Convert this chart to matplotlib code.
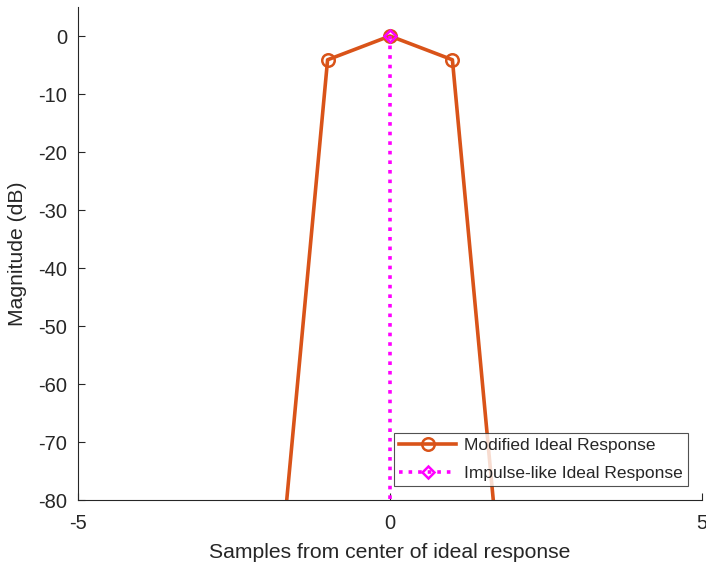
import matplotlib
matplotlib.use("Agg")
import matplotlib.pyplot as plt

# Data
samples = [-2, -1, 0, 1, 2]
modified_db = [-120, -4.1, 0, -4.1, -120]
impulse_x = [0, 0]
impulse_db = [0, -300]
xticks = [-5, 0, 5]
yticks = [0, -10, -20, -30, -40, -50, -60, -70, -80]

plt.rcParams['font.family'] = ['Liberation Sans', 'DejaVu Sans']
plt.rcParams['axes.unicode_minus'] = False

fig = plt.figure(figsize=(7.06, 5.66), dpi=100)
ax = fig.add_axes([78/706, 66/566, 624/706, 493/566])

orange = '#D95319'
ax.plot(samples, modified_db, '-o', color=orange, lw=2.6, ms=9, mfc='none',
        mew=1.8, label='Modified Ideal Response')
ax.plot(impulse_x, impulse_db, ':D', color='#FF00FF', lw=2.6, ms=6.5, mfc='none',
        mew=1.8, markevery=[0], label='Impulse-like Ideal Response')

ax.set_xlim(-5, 5)
ax.set_ylim(-80, 5)
ax.set_xticks(xticks)
ax.set_yticks(yticks)
ax.spines['top'].set_visible(False)
ax.spines['right'].set_visible(False)
for s in ['left', 'bottom']:
    ax.spines[s].set_color('#262626')
    ax.spines[s].set_linewidth(0.8)
ax.tick_params(direction='in', length=5, width=0.8, colors='#262626',
               labelsize=14.5)
ax.tick_params(axis='x', pad=10)
ax.tick_params(axis='y', pad=8)
ax.set_xlabel('Samples from center of ideal response', fontsize=15.2, color='#262626', labelpad=7)
ax.set_ylabel('Magnitude (dB)', fontsize=15.2, color='#262626', labelpad=8)

leg = ax.legend(loc='lower right', bbox_to_anchor=(0.9776, 0.0284), fontsize=12.5,
                frameon=True, fancybox=False, edgecolor='#262626', borderaxespad=0,
                handlelength=3.3, borderpad=0.3, labelspacing=0.72, handletextpad=0.45)
leg.get_frame().set_linewidth(0.8)
for t in leg.get_texts():
    t.set_color('#262626')

fig.savefig('out.png', dpi=100)
